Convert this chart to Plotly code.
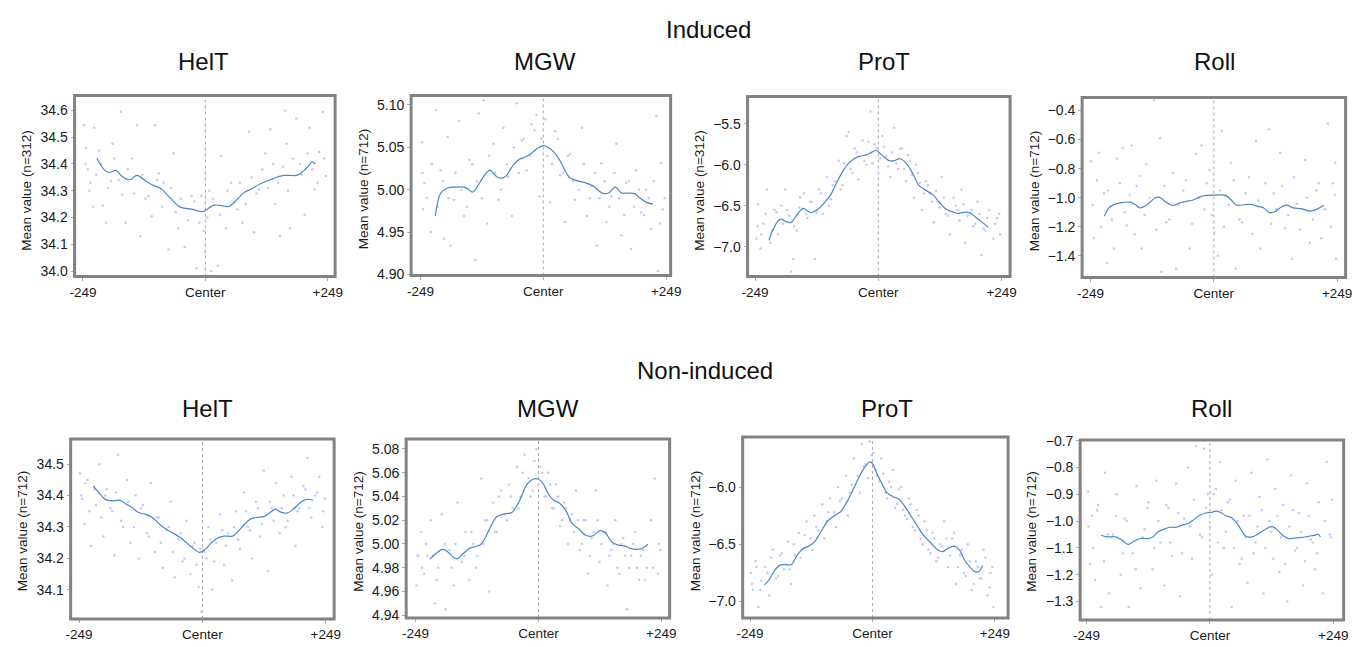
import plotly.graph_objects as go

# ---------------- data ----------------
features = ["HelT", "MGW", "ProT", "Roll", "HelT", "MGW", "ProT", "Roll"]
ylabels = ["Mean value (n=312)", "Mean value (n=712)", "Mean value (n=312)", "Mean value (n=712)",
           "Mean value (n=712)", "Mean value (n=712)", "Mean value (n=712)", "Mean value (n=712)"]
row_titles = ["Induced", "Non-induced"]
xtick_vals = [-249, 0, 249]
xtick_text = ["-249", "Center", "+249"]

# smoothed profile lines (position, mean value)
ind_helt_x = [-221, -205, -195, -182, -169, -154, -139, -122, -105, -92, -75, -55, -48, -28, -5, 2, 18, 38, 48, 65, 78, 95, 112, 132, 159, 172, 189, 205, 218, 224]
ind_helt_y = [34.422, 34.377, 34.368, 34.376, 34.353, 34.341, 34.357, 34.337, 34.319, 34.310, 34.280, 34.243, 34.237, 34.231, 34.222, 34.229, 34.246, 34.243, 34.241, 34.268, 34.292, 34.308, 34.326, 34.341, 34.357, 34.357, 34.359, 34.383, 34.408, 34.399]

ind_mgw_x = [-219, -214, -208, -194, -181, -161, -151, -144, -138, -128, -118, -108, -101, -91, -78, -61, -48, -38, -24, -11, 0, 9, 22, 32, 42, 52, 66, 86, 102, 119, 132, 146, 159, 172, 186, 196, 209, 222]
ind_mgw_y = [4.969, 4.985, 4.996, 5.002, 5.003, 5.003, 5.000, 4.997, 5.000, 5.009, 5.018, 5.023, 5.019, 5.014, 5.015, 5.029, 5.036, 5.038, 5.043, 5.049, 5.052, 5.050, 5.044, 5.036, 5.025, 5.015, 5.011, 5.008, 5.004, 4.996, 4.996, 5.003, 4.996, 4.996, 4.995, 4.990, 4.985, 4.983]

ind_prot_x = [-221, -212, -202, -196, -186, -176, -166, -152, -146, -136, -122, -109, -96, -83, -69, -56, -39, -23, -13, -4, 4, 14, 24, 34, 44, 57, 71, 81, 94, 110, 124, 137, 150, 160, 170, 184, 197, 210, 222]
ind_prot_y = [-6.921, -6.781, -6.682, -6.662, -6.694, -6.702, -6.622, -6.531, -6.551, -6.582, -6.543, -6.463, -6.364, -6.204, -6.053, -5.958, -5.898, -5.878, -5.846, -5.826, -5.866, -5.918, -5.954, -5.946, -5.926, -5.985, -6.125, -6.244, -6.304, -6.364, -6.463, -6.543, -6.574, -6.594, -6.582, -6.582, -6.642, -6.702, -6.761]

ind_roll_x = [-221, -212, -202, -189, -169, -159, -149, -139, -129, -119, -109, -99, -83, -69, -56, -43, -29, -16, 4, 24, 34, 47, 64, 77, 87, 100, 112, 122, 137, 147, 160, 177, 194, 207, 222]
ind_roll_y = [-1.126, -1.070, -1.048, -1.036, -1.031, -1.047, -1.070, -1.058, -1.031, -1.002, -0.998, -1.025, -1.054, -1.036, -1.025, -1.018, -0.996, -0.984, -0.982, -0.984, -1.013, -1.052, -1.047, -1.047, -1.058, -1.070, -1.103, -1.099, -1.063, -1.052, -1.070, -1.076, -1.092, -1.081, -1.052]

non_helt_x = [-220, -209, -196, -182, -166, -156, -142, -129, -116, -102, -89, -79, -63, -46, -33, -19, -6, 4, 17, 31, 44, 61, 71, 84, 97, 110, 124, 137, 147, 157, 170, 184, 197, 210, 224]
non_helt_y = [34.431, 34.409, 34.388, 34.383, 34.385, 34.375, 34.362, 34.346, 34.341, 34.331, 34.313, 34.299, 34.284, 34.268, 34.251, 34.232, 34.219, 34.226, 34.248, 34.265, 34.271, 34.271, 34.284, 34.307, 34.325, 34.331, 34.333, 34.346, 34.357, 34.348, 34.344, 34.357, 34.377, 34.388, 34.385]

non_mgw_x = [-220, -207, -194, -184, -174, -165, -154, -140, -130, -117, -107, -94, -84, -71, -54, -44, -34, -24, -11, -1, 9, 19, 29, 43, 56, 69, 82, 96, 109, 126, 136, 149, 162, 176, 186, 202, 216, 222]
non_mgw_y = [4.9872, 4.9922, 4.9955, 4.9935, 4.9894, 4.9875, 4.9913, 4.9963, 4.9976, 4.9996, 5.0059, 5.0169, 5.0232, 5.0251, 5.0265, 5.0320, 5.0402, 5.0498, 5.0545, 5.0547, 5.0512, 5.0429, 5.0375, 5.0342, 5.0278, 5.0169, 5.0127, 5.0073, 5.0067, 5.0114, 5.0092, 5.0018, 4.9990, 4.9982, 4.9963, 4.9955, 4.9976, 4.9998]

non_prot_x = [-220, -212, -202, -189, -175, -165, -155, -142, -128, -118, -105, -92, -78, -65, -51, -38, -25, -14, -6, -1, 9, 19, 29, 43, 53, 63, 76, 90, 103, 120, 133, 143, 153, 167, 177, 187, 197, 209, 217, 224]
non_prot_y = [-6.857, -6.823, -6.751, -6.686, -6.680, -6.680, -6.609, -6.543, -6.514, -6.480, -6.394, -6.303, -6.251, -6.217, -6.123, -6.009, -5.894, -5.817, -5.780, -5.789, -5.880, -5.966, -6.046, -6.086, -6.103, -6.151, -6.237, -6.331, -6.417, -6.494, -6.551, -6.566, -6.537, -6.517, -6.551, -6.637, -6.694, -6.743, -6.737, -6.686]

non_roll_x = [-220, -208, -191, -178, -165, -155, -141, -125, -115, -105, -91, -81, -68, -55, -45, -35, -22, -8, 2, 12, 22, 32, 42, 52, 62, 72, 85, 98, 111, 125, 135, 145, 158, 171, 185, 198, 211, 219, 223]
non_roll_y = [-1.053, -1.059, -1.059, -1.071, -1.087, -1.077, -1.065, -1.065, -1.059, -1.041, -1.029, -1.023, -1.023, -1.014, -1.010, -0.998, -0.980, -0.970, -0.968, -0.963, -0.968, -0.980, -0.986, -1.002, -1.029, -1.056, -1.059, -1.047, -1.032, -1.021, -1.031, -1.050, -1.065, -1.063, -1.061, -1.057, -1.053, -1.049, -1.059]

# per-position scatter, outer dots (estimated from the visible dots)
ind_helt_px = [-247, -242, -239, -236, -228, -226, -216, -209, -202, -192, -189, -172, -169, -162, -149, -139, -132, -122, -109, -102, -95, -85, -75, -65, -55, -42, -28, -18, -12, -3, -1, 8, 12, 25, 32, 42, 52, 65, 75, 89, 99, 109, 122, 132, 142, 152, 162, 165, 172, 185, 192, 202, 212, 222, 232, 239, 245]
ind_helt_py = [34.545, 34.46, 34.38, 34.30, 34.24, 34.535, 34.45, 34.245, 34.18, 34.335, 34.475, 34.595, 34.285, 34.18, 34.42, 34.545, 34.13, 34.27, 34.205, 34.545, 34.365, 34.33, 34.08, 34.44, 34.16, 34.09, 34.28, 34.01, 34.18, 34.15, 34.07, 34.30, 34.0, 34.02, 34.43, 34.16, 34.33, 34.23, 34.18, 34.52, 34.145, 34.305, 34.44, 34.53, 34.25, 34.13, 34.60, 34.475, 34.16, 34.57, 34.40, 34.21, 34.535, 34.305, 34.445, 34.595, 34.355]

ind_mgw_px = [-246, -241, -244, -228, -218, -208, -201, -194, -188, -181, -171, -161, -150, -138, -131, -121, -114, -101, -91, -81, -71, -64, -54, -44, -34, -24, -14, -8, 4, 14, 24, 34, 44, 54, 64, 78, 88, 98, 108, 118, 128, 138, 148, 158, 168, 178, 188, 198, 208, 218, 229, 232, 239, 242]
ind_mgw_py = [5.056, 5.008, 4.977, 4.950, 5.094, 5.023, 4.942, 5.062, 4.934, 4.988, 5.081, 4.969, 5.035, 4.917, 5.090, 5.105, 4.960, 5.054, 4.988, 5.073, 5.015, 4.969, 5.102, 5.058, 5.023, 5.077, 5.088, 4.992, 5.083, 4.985, 5.069, 5.017, 4.962, 5.042, 4.988, 5.073, 4.969, 5.004, 4.934, 5.031, 4.962, 4.992, 5.054, 4.946, 5.008, 4.930, 5.023, 4.973, 5.000, 4.954, 5.087, 4.904, 5.031, 4.977]

ind_prot_px = [-246, -243, -238, -232, -225, -218, -210, -203, -196, -188, -180, -176, -172, -165, -158, -150, -143, -135, -128, -120, -112, -104, -96, -88, -80, -72, -64, -60, -56, -48, -40, -32, -24, -16, -8, 0, 8, 16, 24, 32, 40, 48, 56, 64, 72, 80, 88, 96, 104, 112, 120, 128, 136, 144, 152, 160, 168, 176, 184, 192, 200, 208, 216, 224, 232, 240, 246]
ind_prot_py = [-6.90, -6.48, -7.02, -6.72, -6.30, -6.95, -6.55, -6.85, -6.50, -6.30, -6.62, -7.30, -7.15, -6.80, -6.40, -6.35, -6.65, -6.45, -7.15, -6.30, -6.60, -6.15, -6.42, -6.20, -5.95, -6.25, -5.65, -5.60, -6.05, -5.80, -6.18, -5.70, -6.00, -5.35, -5.75, -6.10, -5.65, -5.90, -6.15, -5.55, -6.05, -5.80, -6.20, -5.95, -6.40, -6.10, -6.55, -6.20, -6.35, -6.70, -6.45, -6.15, -6.60, -6.85, -6.40, -6.55, -6.30, -6.95, -6.60, -6.75, -6.45, -7.10, -6.80, -6.55, -6.90, -6.65, -6.85]

ind_roll_px = [-248, -243, -232, -222, -216, -202, -196, -184, -176, -166, -156, -146, -136, -121, -109, -106, -96, -82, -76, -62, -49, -36, -25, -19, -9, 1, 8, 16, 24, 34, 44, 57, 71, 85, 94, 111, 121, 134, 144, 158, 168, 184, 194, 207, 217, 230, 240, 245, 247]
ind_roll_py = [-0.75, -1.28, -0.69, -0.97, -1.45, -1.35, -0.73, -0.66, -1.19, -0.64, -0.92, -1.35, -0.77, -0.33, -0.59, -1.51, -1.17, -0.83, -1.49, -0.95, -1.35, -0.70, -0.64, -1.08, -0.81, -1.24, -1.40, -0.54, -0.99, -0.76, -1.49, -1.17, -0.86, -0.61, -1.35, -0.53, -0.97, -0.69, -1.21, -1.42, -1.04, -0.74, -1.31, -0.95, -1.28, -0.49, -0.90, -0.76, -1.42]

non_helt_px = [-247, -243, -238, -232, -225, -215, -208, -200, -193, -186, -178, -170, -160, -152, -145, -135, -128, -120, -112, -104, -96, -88, -80, -72, -64, -56, -48, -40, -32, -24, -16, -8, -2, 4, 12, 20, 28, 36, 44, 52, 60, 68, 76, 84, 92, 100, 108, 116, 124, 132, 140, 148, 156, 164, 172, 180, 188, 196, 204, 212, 220, 228, 236, 242, 247]
non_helt_py = [34.47, 34.39, 34.31, 34.45, 34.24, 34.37, 34.50, 34.27, 34.42, 34.36, 34.21, 34.53, 34.30, 34.45, 34.25, 34.40, 34.20, 34.37, 34.28, 34.44, 34.22, 34.33, 34.17, 34.29, 34.38, 34.14, 34.26, 34.19, 34.32, 34.15, 34.25, 34.11, 34.03, 34.22, 34.30, 34.10, 34.25, 34.34, 34.18, 34.28, 34.13, 34.35, 34.23, 34.41, 34.30, 34.20, 34.38, 34.27, 34.48, 34.16, 34.36, 34.44, 34.28, 34.40, 34.32, 34.46, 34.24, 34.36, 34.43, 34.52, 34.33, 34.40, 34.46, 34.30, 34.39]

non_mgw_px = [-247, -243, -238, -232, -225, -218, -210, -203, -196, -188, -180, -172, -164, -156, -148, -140, -132, -124, -116, -108, -100, -92, -84, -76, -68, -60, -52, -44, -36, -28, -20, -12, -4, 4, 12, 20, 28, 36, 44, 52, 60, 68, 76, 84, 92, 100, 108, 116, 124, 132, 140, 148, 156, 164, 172, 180, 188, 196, 204, 212, 220, 228, 236, 242, 247]
non_mgw_py = [4.965, 4.990, 5.010, 4.975, 4.990, 5.020, 4.950, 4.980, 5.025, 4.945, 4.995, 4.965, 5.035, 4.985, 5.010, 4.970, 5.000, 4.990, 5.055, 5.020, 4.960, 5.035, 5.010, 5.045, 5.025, 5.050, 5.030, 5.065, 5.040, 5.075, 5.055, 5.045, 5.080, 5.065, 5.040, 5.060, 5.030, 5.050, 5.015, 5.035, 5.000, 5.025, 5.045, 4.995, 5.020, 4.975, 5.005, 5.045, 4.985, 5.010, 4.965, 4.995, 5.020, 4.975, 5.005, 4.945, 4.990, 5.010, 4.970, 4.995, 4.980, 5.020, 5.055, 4.975, 4.995]

non_prot_px = [-247, -243, -238, -232, -226, -218, -210, -203, -196, -188, -180, -172, -165, -158, -150, -142, -134, -126, -118, -110, -102, -94, -86, -78, -70, -62, -54, -46, -38, -30, -22, -14, -6, 2, 10, 18, 26, 34, 42, 50, 58, 66, 74, 82, 90, 98, 106, 114, 122, 130, 138, 146, 154, 162, 170, 178, 186, 194, 202, 210, 218, 226, 234, 240, 246]
non_prot_py = [-6.75, -6.90, -6.65, -7.05, -6.82, -6.70, -6.95, -6.55, -6.80, -6.60, -6.72, -6.48, -6.85, -6.60, -6.40, -6.55, -6.30, -6.45, -6.25, -6.38, -6.15, -6.30, -6.10, -6.22, -6.00, -6.10, -5.90, -6.05, -5.75, -5.90, -5.62, -5.80, -5.60, -5.70, -5.90, -5.75, -6.05, -5.95, -5.85, -6.15, -6.00, -6.25, -6.10, -6.35, -6.20, -6.45, -6.30, -6.55, -6.40, -6.65, -6.50, -6.30, -6.70, -6.45, -6.85, -6.60, -6.75, -6.50, -6.90, -6.65, -6.80, -6.55, -6.95, -6.75, -7.05]

non_roll_px = [-246, -242, -238, -232, -226, -220, -212, -204, -196, -188, -180, -172, -164, -156, -148, -140, -132, -124, -116, -108, -100, -92, -84, -76, -68, -60, -52, -44, -36, -28, -20, -12, -4, 4, 12, 20, 28, 36, 44, 52, 60, 68, 76, 84, 92, 100, 108, 116, 124, 132, 140, 148, 156, 164, 172, 180, 188, 196, 204, 212, 220, 228, 236, 242, 247]
non_roll_py = [-0.89, -1.16, -0.98, -1.22, -0.94, -1.32, -0.82, -1.27, -1.05, -0.90, -1.20, -0.99, -1.32, -1.12, -0.87, -1.25, -1.03, -0.93, -1.18, -0.85, -1.08, -1.24, -0.95, -1.13, -0.86, -1.28, -0.99, -0.80, -1.14, -0.72, -1.05, -0.73, -0.90, -1.20, -0.88, -0.78, -1.10, -0.93, -1.32, -0.85, -1.16, -0.98, -1.23, -0.82, -1.08, -0.91, -1.27, -0.77, -1.04, -0.88, -1.19, -0.94, -1.30, -0.83, -1.11, -0.97, -1.24, -0.86, -1.07, -1.18, -0.93, -1.27, -0.78, -1.05, -0.92]

# per-position scatter, dense band close to the profile (estimated)
ind_helt_bx = [-244, -234, -222, -212, -198, -185, -176, -158, -145, -128, -116, -98, -88, -70, -60, -50, -35, -22, -8, 4, 16, 30, 45, 58, 70, 82, 94, 104, 116, 128, 138, 148, 158, 168, 178, 196, 208, 218, 228, 242]
ind_helt_by = [34.40, 34.33, 34.36, 34.40, 34.31, 34.42, 34.34, 34.38, 34.29, 34.36, 34.28, 34.34, 34.24, 34.31, 34.22, 34.27, 34.19, 34.26, 34.28, 34.20, 34.27, 34.21, 34.30, 34.26, 34.33, 34.25, 34.35, 34.29, 34.38, 34.31, 34.40, 34.33, 34.39, 34.30, 34.42, 34.36, 34.44, 34.38, 34.33, 34.42]

ind_mgw_bx = [-245, -236, -226, -214, -204, -192, -178, -166, -155, -144, -134, -124, -110, -98, -86, -74, -60, -50, -40, -28, -18, -4, 8, 18, 30, 40, 50, 60, 72, 82, 94, 104, 114, 124, 134, 144, 154, 164, 174, 184, 194, 204, 214, 224, 236, 246]
ind_mgw_by = [5.02, 4.99, 5.03, 4.98, 5.01, 4.99, 5.02, 5.00, 4.98, 5.03, 5.01, 4.99, 5.04, 5.02, 5.00, 5.03, 5.05, 5.02, 5.06, 5.04, 5.07, 5.06, 5.04, 5.03, 5.06, 5.02, 5.04, 5.01, 5.00, 5.03, 4.99, 5.02, 4.99, 5.01, 4.98, 5.02, 4.99, 4.97, 5.01, 4.98, 5.00, 4.97, 4.99, 5.01, 4.96, 4.99]

ind_prot_bx = [-244, -236, -228, -214, -206, -192, -184, -170, -160, -146, -138, -124, -116, -100, -92, -76, -68, -52, -44, -28, -20, -12, -4, 4, 12, 20, 28, 36, 44, 52, 60, 68, 76, 84, 92, 100, 108, 116, 124, 132, 140, 156, 164, 172, 180, 188, 196, 204, 212, 220, 236, 244]
ind_prot_by = [-6.75, -6.85, -6.60, -6.80, -6.58, -6.72, -6.55, -6.75, -6.52, -6.60, -6.45, -6.58, -6.35, -6.50, -6.25, -6.30, -5.98, -6.10, -5.85, -5.95, -5.72, -5.98, -5.80, -5.92, -5.78, -6.02, -5.85, -5.98, -5.80, -6.05, -5.88, -6.12, -6.00, -6.22, -6.35, -6.25, -6.45, -6.32, -6.52, -6.40, -6.62, -6.50, -6.68, -6.48, -6.62, -6.55, -6.72, -6.60, -6.78, -6.65, -6.72, -6.60]

ind_roll_bx = [-245, -236, -228, -214, -206, -190, -180, -170, -160, -150, -140, -130, -116, -100, -90, -72, -56, -44, -30, -14, -4, 12, 20, 30, 40, 52, 64, 78, 90, 104, 116, 126, 138, 150, 162, 174, 188, 200, 212, 224, 236, 244]
ind_roll_by = [-1.05, -0.88, -1.20, -0.95, -1.15, -0.90, -1.10, -0.98, -1.25, -0.85, -1.12, -1.00, -1.22, -0.92, -1.15, -1.05, -0.88, -1.18, -1.00, -0.90, -1.12, -0.95, -1.20, -1.05, -0.88, -1.15, -0.97, -1.25, -1.02, -0.90, -1.18, -1.08, -0.92, -1.12, -0.86, -1.22, -1.00, -1.15, -0.90, -1.08, -1.20, -0.98]

non_helt_bx = [-245, -236, -228, -218, -204, -196, -182, -174, -164, -150, -138, -124, -108, -92, -84, -68, -60, -44, -36, -20, -12, -4, 8, 16, 24, 40, 48, 64, 72, 88, 96, 112, 120, 136, 144, 160, 168, 184, 192, 208, 216, 232, 244]
non_helt_by = [34.40, 34.44, 34.35, 34.42, 34.33, 34.40, 34.35, 34.41, 34.32, 34.38, 34.30, 34.36, 34.27, 34.33, 34.25, 34.30, 34.22, 34.28, 34.20, 34.24, 34.18, 34.23, 34.20, 34.26, 34.19, 34.29, 34.24, 34.30, 34.26, 34.35, 34.29, 34.36, 34.31, 34.38, 34.32, 34.36, 34.30, 34.40, 34.35, 34.42, 34.36, 34.41, 34.35]

non_mgw_bx = [-245, -236, -228, -214, -206, -190, -176, -168, -150, -136, -126, -112, -104, -88, -80, -64, -56, -40, -32, -16, -8, 0, 8, 16, 24, 32, 40, 48, 56, 64, 72, 80, 88, 96, 104, 112, 120, 128, 136, 144, 152, 160, 168, 176, 184, 192, 200, 208, 216, 232, 244]
non_mgw_by = [4.99, 4.98, 5.00, 4.99, 4.97, 5.00, 4.98, 5.00, 4.99, 5.01, 4.98, 5.00, 5.02, 5.01, 5.04, 5.02, 5.04, 5.03, 5.06, 5.04, 5.07, 5.05, 5.06, 5.04, 5.05, 5.03, 5.04, 5.02, 5.03, 5.02, 5.01, 5.02, 5.00, 5.02, 4.99, 5.01, 5.02, 5.00, 5.01, 4.99, 5.00, 4.98, 5.00, 4.99, 4.98, 5.00, 4.98, 4.99, 4.97, 4.98, 5.00]

non_prot_bx = [-245, -236, -228, -214, -206, -192, -184, -168, -160, -146, -138, -122, -114, -98, -90, -74, -66, -50, -42, -26, -18, -10, -2, 6, 14, 22, 30, 38, 46, 54, 62, 70, 78, 86, 94, 102, 110, 118, 126, 134, 142, 150, 158, 166, 174, 182, 190, 198, 206, 214, 222, 230, 238, 244]
non_prot_by = [-6.85, -6.70, -6.90, -6.75, -6.62, -6.78, -6.58, -6.72, -6.50, -6.62, -6.42, -6.55, -6.35, -6.45, -6.22, -6.35, -6.12, -6.25, -5.98, -6.05, -5.82, -5.92, -5.72, -5.85, -5.95, -5.88, -6.10, -6.00, -6.18, -6.02, -6.20, -6.28, -6.15, -6.38, -6.25, -6.50, -6.38, -6.58, -6.45, -6.62, -6.52, -6.45, -6.60, -6.40, -6.70, -6.55, -6.78, -6.65, -6.85, -6.70, -6.80, -6.62, -6.88, -6.70]

non_roll_bx = [-245, -236, -228, -214, -206, -190, -176, -168, -150, -136, -126, -112, -104, -88, -80, -64, -56, -40, -32, -16, -8, 0, 8, 16, 24, 32, 40, 48, 56, 64, 72, 80, 88, 96, 104, 112, 120, 128, 136, 144, 152, 160, 168, 176, 184, 192, 200, 208, 216, 232, 244]
non_roll_by = [-1.02, -1.10, -0.96, -1.15, -1.05, -0.98, -1.12, -1.00, -1.18, -1.06, -0.95, -1.10, -1.00, -0.94, -1.08, -0.97, -1.12, -1.02, -0.92, -1.06, -0.95, -1.02, -0.90, -1.08, -0.96, -1.04, -0.92, -1.10, -1.00, -1.14, -1.06, -0.98, -1.12, -1.02, -0.96, -1.10, -1.00, -1.14, -0.98, -1.06, -1.16, -1.02, -0.96, -1.10, -1.04, -1.15, -0.98, -1.08, -1.12, -1.00, -1.06]

y_ticks = [
    [34.0, 34.1, 34.2, 34.3, 34.4, 34.5, 34.6],
    [4.90, 4.95, 5.00, 5.05, 5.10],
    [-7.0, -6.5, -6.0, -5.5],
    [-1.4, -1.2, -1.0, -0.8, -0.6, -0.4],
    [34.1, 34.2, 34.3, 34.4, 34.5],
    [4.94, 4.96, 4.98, 5.00, 5.02, 5.04, 5.06, 5.08],
    [-7.0, -6.5, -6.0],
    [-1.3, -1.2, -1.1, -1.0, -0.9, -0.8, -0.7],
]
y_fmt = [".1f", ".2f", ".1f", ".1f", ".1f", ".2f", ".1f", ".1f"]

lines = [(ind_helt_x, ind_helt_y), (ind_mgw_x, ind_mgw_y), (ind_prot_x, ind_prot_y), (ind_roll_x, ind_roll_y),
         (non_helt_x, non_helt_y), (non_mgw_x, non_mgw_y), (non_prot_x, non_prot_y), (non_roll_x, non_roll_y)]
dots = [(ind_helt_px + ind_helt_bx, ind_helt_py + ind_helt_by),
        (ind_mgw_px + ind_mgw_bx, ind_mgw_py + ind_mgw_by),
        (ind_prot_px + ind_prot_bx, ind_prot_py + ind_prot_by),
        (ind_roll_px + ind_roll_bx, ind_roll_py + ind_roll_by),
        (non_helt_px + non_helt_bx, non_helt_py + non_helt_by),
        (non_mgw_px + non_mgw_bx, non_mgw_py + non_mgw_by),
        (non_prot_px + non_prot_bx, non_prot_py + non_prot_by),
        (non_roll_px + non_roll_bx, non_roll_py + non_roll_by)]

# ---------------- layout (pixel boxes of each panel, outer frame edges) ----------------
W, H = 1364, 647
boxes = [(67, 89, 334, 277), (408, 89, 674, 276), (749, 90, 1018, 277), (1088, 91, 1358, 278),
         (63, 440, 333, 627), (403, 440, 673, 626), (744, 438, 1016, 626), (1086, 441, 1356, 628)]
x_ranges = [(-269, 267), (-271, 261), (-267, 269), (-269, 269), (-269, 269), (-271, 269), (-267, 279), (-265, 273)]
y_ranges = [(33.974, 34.661), (4.897, 5.1127), (-7.38, -5.15), (-1.56, -0.30),
            (34.0025, 34.585), (4.9365, 5.0896), (-7.16, -5.548), (-1.374, -0.692)]
title_pos = [(199, 56), (545, 56), (889, 56), (1224, 56), (203, 410), (548, 410), (892, 410), (1221, 410)]
ytitle_pos = [(20, 188), (362, 186), (702, 188), (1042, 188), (16, 536), (356, 536), (698, 536), (1038, 536)]
row_title_pos = [(711, 23), (707, 372)]
INSET = 1.5  # frame is 3 px wide, centred on the plot-area edge

FONT = "Liberation Sans, Arial, sans-serif"
TXT = "#1a1a1a"
BORDER = "#828282"

fig = go.Figure()
layout = dict(width=W, height=H, margin=dict(l=0, r=0, t=0, b=0),
              paper_bgcolor="white", plot_bgcolor="white", showlegend=False,
              font=dict(family=FONT, color=TXT))
shapes, annotations = [], []

for i in range(8):
    k = "" if i == 0 else str(i + 1)
    xa, ya = "x" + k, "y" + k
    bx0, by0, bx1, by1 = boxes[i]
    # shrink the value ranges along with the inset so the scale stays as measured
    xr0, xr1 = x_ranges[i]
    yr0, yr1 = y_ranges[i]
    fx = (xr1 - xr0) / (bx1 - bx0)
    fy = (yr1 - yr0) / (by1 - by0)
    xr = [xr0 + INSET * fx, xr1 - INSET * fx]
    yr = [yr0 + INSET * fy, yr1 - INSET * fy]
    x0, y0, x1, y1 = bx0 + INSET, by0 + INSET, bx1 - INSET, by1 - INSET
    fig.add_trace(go.Scatter(x=dots[i][0], y=dots[i][1], mode="markers", xaxis=xa, yaxis=ya,
                             marker=dict(size=2.5, color="#c6c6fb", line=dict(width=0)),
                             hoverinfo="skip"))
    fig.add_trace(go.Scatter(x=lines[i][0], y=lines[i][1], mode="lines", xaxis=xa, yaxis=ya,
                             line=dict(color="#4a87c6", width=1.2, shape="spline", smoothing=1.0)))
    layout["xaxis" + k] = dict(domain=[x0 / W, x1 / W], range=xr, anchor=ya,
                               tickvals=xtick_vals, ticktext=xtick_text, ticks="outside", ticklen=3,
                               tickcolor="#aaaaaa", tickwidth=1, showgrid=False, zeroline=False,
                               showline=False, tickfont=dict(size=13.5, color=TXT, family=FONT))
    layout["yaxis" + k] = dict(domain=[1 - y1 / H, 1 - y0 / H], range=yr, anchor=xa,
                               tickvals=y_ticks[i], tickformat=y_fmt[i], ticks="outside", ticklen=3,
                               tickcolor="#aaaaaa", tickwidth=1, showgrid=False, zeroline=False,
                               showline=False, tickfont=dict(size=14, color=TXT, family=FONT))
    # dotted centre line
    shapes.append(dict(type="line", xref=xa, yref=ya + " domain", x0=0, x1=0, y0=0, y1=1,
                       line=dict(color="#a8a8a8", width=1, dash="dot"), layer="below"))
    # thick grey frame
    shapes.append(dict(type="rect", xref=xa + " domain", yref=ya + " domain", x0=0, x1=1, y0=0, y1=1,
                       line=dict(color=BORDER, width=3), fillcolor="rgba(0,0,0,0)"))
    tx, ty = title_pos[i]
    annotations.append(dict(text=features[i], x=tx / W, y=1 - ty / H, xref="paper", yref="paper",
                            showarrow=False, xanchor="center", yanchor="middle",
                            font=dict(size=24, color="#111111", family=FONT)))
    qx, qy = ytitle_pos[i]
    annotations.append(dict(text=ylabels[i], x=qx / W, y=1 - qy / H, xref="paper", yref="paper",
                            showarrow=False, xanchor="center", yanchor="middle", textangle=-90,
                            font=dict(size=13.5, color=TXT, family=FONT)))

for t, (rx, ry) in zip(row_titles, row_title_pos):
    annotations.append(dict(text=t, x=rx / W, y=1 - ry / H, xref="paper", yref="paper",
                            showarrow=False, xanchor="center", yanchor="middle",
                            font=dict(size=24, color="#111111", family=FONT)))

layout["shapes"] = shapes
layout["annotations"] = annotations
fig.update_layout(**layout)
fig.write_html("out.html")
